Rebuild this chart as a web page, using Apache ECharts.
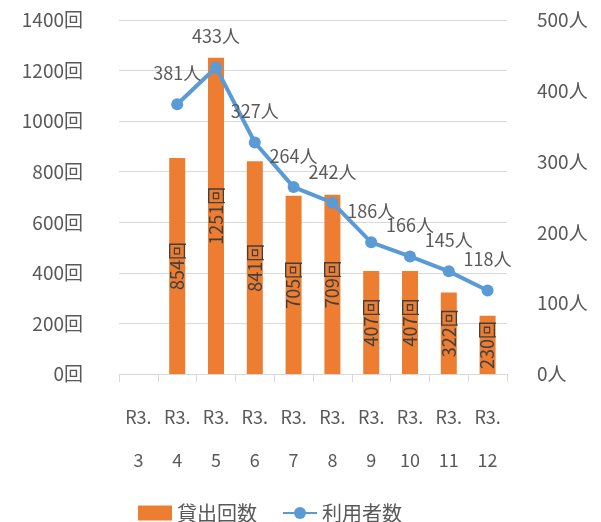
<!DOCTYPE html>
<html><head><meta charset="utf-8">
<script src="https://cdn.jsdelivr.net/npm/echarts@6/dist/echarts.min.js"></script>
<style>html,body{margin:0;padding:0;background:#fff}#c{width:601px;height:522px}</style>
</head><body><div id="c"></div>
<script>
const categories = ['R3.3','R3.4','R3.5','R3.6','R3.7','R3.8','R3.9','R3.10','R3.11','R3.12'];
const loans = [null, 854, 1251, 841, 705, 709, 407, 407, 322, 230];
const users = [null, 381, 433, 327, 264, 242, 186, 166, 145, 118];
const leftTicks = {min: 0, max: 1400, interval: 200};
const rightTicks = {min: 0, max: 500, interval: 100};

const FONT = '"Noto Sans CJK JP", "Noto Sans", sans-serif';
const TXT = '#595959';
const chart = echarts.init(document.getElementById('c'), null, {renderer: 'canvas'});
chart.setOption({
  animation: false,
  textStyle: {fontFamily: FONT},
  grid: {left: 119, right: 94, top: 20, bottom: 148},
  legend: {
    left: 133, top: 498, itemGap: 25, itemWidth: 34, itemHeight: 15,
    textStyle: {fontSize: 20, color: TXT, fontFamily: FONT},
    data: [{name: '貸出回数', icon: 'rect'}, {name: '利用者数'}]
  },
  xAxis: {
    type: 'category', data: categories,
    axisLine: {lineStyle: {color: '#d9d9d9', width: 1}},
    axisTick: {show: true, length: 8, lineStyle: {color: '#d9d9d9'}},
    axisLabel: {
      interval: 0, margin: 22, fontSize: 18, lineHeight: 43, color: TXT, fontFamily: FONT,
      formatter: v => v.replace('.', '.\n')
    }
  },
  yAxis: [
    {type: 'value', min: leftTicks.min, max: leftTicks.max, interval: leftTicks.interval,
     axisLine: {show: false}, axisTick: {show: false},
     splitLine: {lineStyle: {color: '#d9d9d9', width: 1}},
     axisLabel: {margin: 36, fontSize: 19, color: TXT, fontFamily: FONT, formatter: v => v + '回'}},
    {type: 'value', min: rightTicks.min, max: rightTicks.max, interval: rightTicks.interval,
     axisLine: {show: false}, axisTick: {show: false}, splitLine: {show: false},
     axisLabel: {margin: 30, fontSize: 19, color: TXT, fontFamily: FONT, formatter: v => v + '人'}}
  ],
  series: [
    {name: '貸出回数', type: 'bar', data: loans, yAxisIndex: 0, barWidth: 16,
     itemStyle: {color: '#ED7D31'},
     label: {show: true, position: 'inside', rotate: 90, fontSize: 18, color: '#404040',
             fontFamily: FONT, formatter: p => p.value + '回'}},
    {name: '利用者数', type: 'line', data: users, yAxisIndex: 1,
     symbol: 'circle', symbolSize: 12,
     lineStyle: {color: '#5B9BD5', width: 4}, itemStyle: {color: '#5B9BD5'},
     label: {show: true, position: 'top', distance: 16, fontSize: 18, color: TXT,
             fontFamily: FONT, formatter: p => p.value + '人'}}
  ]
});
</script></body></html>
